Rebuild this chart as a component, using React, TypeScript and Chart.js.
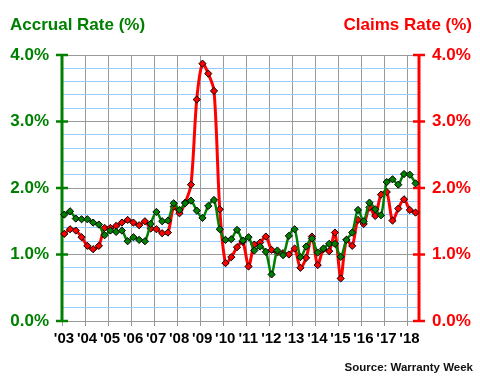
import React, { useEffect, useRef } from "react";
import { Chart, registerables } from "chart.js";

Chart.register(...registerables);

// Years shown on the x axis (one label per 4 quarters, starting Q1 2003)
const yearLabels = ["'03", "'04", "'05", "'06", "'07", "'08", "'09", "'10", "'11", "'12", "'13", "'14", "'15", "'16", "'17", "'18"];

// Quarterly accrual rate (%), Q1 2003 .. Q2 2018
const accrualRate = [
  1.60, 1.65, 1.54, 1.53, 1.53, 1.48, 1.45, 1.29,
  1.36, 1.34, 1.36, 1.20, 1.26, 1.22, 1.20, 1.46,
  1.64, 1.50, 1.51, 1.77, 1.67, 1.77, 1.81, 1.66,
  1.55, 1.73, 1.82, 1.38, 1.22, 1.23, 1.37, 1.21,
  1.26, 1.06, 1.12, 1.04, 0.70, 1.06, 0.99, 1.28,
  1.38, 0.96, 1.12, 1.24, 1.03, 1.09, 1.16, 1.16,
  0.965, 1.22, 1.33, 1.67, 1.50, 1.78, 1.68, 1.59,
  2.09, 2.13, 2.05, 2.21, 2.20, 2.07,
];

// Quarterly claims rate (%), Q1 2003 .. Q2 2018
const claimsRate = [
  1.31, 1.38, 1.36, 1.26, 1.13, 1.08, 1.13, 1.40,
  1.40, 1.43, 1.48, 1.52, 1.48, 1.44, 1.50, 1.39,
  1.38, 1.32, 1.33, 1.72, 1.62, 1.78, 2.05, 3.33,
  3.87, 3.72, 3.46, 1.68, 0.87, 0.96, 1.11, 1.19,
  0.82, 1.15, 1.18, 1.27, 1.07, 1.03, 1.02, 1.00,
  1.09, 0.80, 0.95, 1.27, 0.84, 1.08, 1.05, 1.33,
  0.64, 1.22, 1.13, 1.52, 1.46, 1.71, 1.58, 1.90,
  1.94, 1.51, 1.69, 1.83, 1.67, 1.63,
];

const yMajorTicks = [0, 1, 2, 3, 4];

const GREEN = "#008000";
const RED = "#ff0000";
const GRID_GREY = "#999999";
const GRID_BLUE = "#99ccff";
const FONT = "Arial, 'Liberation Sans', sans-serif";

const QUARTER_OFFSET = 0.4;
const N_QUARTERS = 62;

export default function App() {
  const ref = useRef<HTMLCanvasElement | null>(null);

  useEffect(() => {
    if (!ref.current) return;

    const toPoints = (arr: number[]) => arr.map((v, i) => ({ x: i + QUARTER_OFFSET, y: v }));

    const decor = {
      id: "decor",
      beforeDatasetsDraw(chart: any) {
        const { ctx, chartArea: a, scales } = chart;
        const yl = scales.y;
        const yr = scales.y1;
        ctx.save();
        // left (green) axis
        ctx.strokeStyle = GREEN;
        ctx.lineWidth = 3;
        ctx.beginPath();
        ctx.moveTo(a.left, a.top - 1);
        ctx.lineTo(a.left, a.bottom + 1);
        ctx.stroke();
        ctx.lineWidth = 2.5;
        for (const v of yMajorTicks) {
          const py = yl.getPixelForValue(v);
          ctx.beginPath();
          ctx.moveTo(a.left - 6, py);
          ctx.lineTo(a.left + 6, py);
          ctx.stroke();
        }
        // right (red) axis
        ctx.strokeStyle = RED;
        ctx.lineWidth = 3;
        ctx.beginPath();
        ctx.moveTo(a.right, a.top - 1);
        ctx.lineTo(a.right, a.bottom + 1);
        ctx.stroke();
        ctx.lineWidth = 2.5;
        for (const v of yMajorTicks) {
          const py = yr.getPixelForValue(v);
          ctx.beginPath();
          ctx.moveTo(a.right - 6, py);
          ctx.lineTo(a.right + 6, py);
          ctx.stroke();
        }
        ctx.restore();
      },
      afterDraw(chart: any) {
        const { ctx } = chart;
        ctx.save();
        ctx.font = `bold 17px ${FONT}`;
        ctx.textBaseline = "alphabetic";
        ctx.fillStyle = GREEN;
        ctx.textAlign = "left";
        ctx.fillText("Accrual Rate (%)", 10, 30);
        ctx.fillStyle = RED;
        ctx.textAlign = "right";
        ctx.fillText("Claims Rate (%)", 472, 30);
        ctx.font = `bold 11.5px ${FONT}`;
        ctx.fillStyle = "#111111";
        ctx.fillText("Source: Warranty Week", 473, 371);
        ctx.restore();
      },
    };

    const isMajor = (v: number) => Math.abs(v - Math.round(v)) < 1e-6;

    const chart = new Chart(ref.current, {
      type: "line",
      data: {
        datasets: [
          {
            label: "Accrual Rate (%)",
            data: toPoints(accrualRate),
            yAxisID: "y",
            borderColor: GREEN,
            backgroundColor: GREEN,
            borderWidth: 2.5,
            tension: 0.3,
            pointStyle: "rectRot",
            pointRadius: 3.6,
            pointBackgroundColor: GREEN,
            pointBorderColor: "#000000",
            pointBorderWidth: 1,
            clip: false,
          },
          {
            label: "Claims Rate (%)",
            data: toPoints(claimsRate),
            yAxisID: "y1",
            borderColor: RED,
            backgroundColor: RED,
            borderWidth: 3,
            tension: 0.3,
            pointStyle: "rectRot",
            pointRadius: 3.6,
            pointBackgroundColor: RED,
            pointBorderColor: "#000000",
            pointBorderWidth: 1,
            clip: false,
          },
        ],
      },
      options: {
        animation: false,
        responsive: false,
        maintainAspectRatio: false,
        layout: { padding: { top: 55, left: 0, right: 0, bottom: 0 } },
        plugins: {
          legend: { display: false },
          tooltip: { enabled: false },
          title: { display: false },
        },
        scales: {
          x: {
            type: "linear",
            min: 0,
            max: N_QUARTERS,
            afterFit: (s: any) => {
              s.height = 59;
            },
            afterBuildTicks: (s: any) => {
              s.ticks = yearLabels.map((_, i) => ({ value: i * 4 }));
            },
            border: { display: true, color: GRID_GREY, width: 1 },
            grid: {
              color: GRID_GREY,
              lineWidth: 1,
              drawTicks: true,
              tickLength: 5,
              tickColor: GRID_GREY,
            },
            ticks: {
              autoSkip: false,
              maxRotation: 0,
              padding: 4,
              labelOffset: 2,
              color: "#000000",
              font: { family: FONT, size: 15, weight: "bold" },
              callback: (v: any) => yearLabels[Math.round(Number(v) / 4)] ?? "",
            },
          },
          y: {
            type: "linear",
            position: "left",
            min: 0,
            max: 4,
            afterFit: (s: any) => {
              s.width = 62;
            },
            border: { display: false },
            grid: {
              drawTicks: false,
              lineWidth: 1,
              color: (c: any) => (isMajor(c.tick.value) ? GRID_GREY : GRID_BLUE),
            },
            ticks: {
              stepSize: 0.2,
              padding: 13,
              autoSkip: false,
              color: GREEN,
              font: { family: FONT, size: 17, weight: "bold" },
              callback: (v: any) => (isMajor(Number(v)) ? `${Number(v).toFixed(1)}%` : ""),
            },
          },
          y1: {
            type: "linear",
            position: "right",
            min: 0,
            max: 4,
            afterFit: (s: any) => {
              s.width = 61;
            },
            border: { display: false },
            grid: { display: false, drawTicks: false },
            ticks: {
              stepSize: 0.2,
              padding: 13,
              autoSkip: false,
              color: RED,
              font: { family: FONT, size: 17, weight: "bold" },
              callback: (v: any) => (isMajor(Number(v)) ? `${Number(v).toFixed(1)}%` : ""),
            },
          },
        },
      },
      plugins: [decor],
    } as any);

    return () => chart.destroy();
  }, []);

  return (
    <div style={{ position: "fixed", left: 0, top: 0, width: 480, height: 380, background: "#ffffff" }}>
      <canvas ref={ref} width={480} height={380} style={{ display: "block", width: 480, height: 380 }} />
    </div>
  );
}
